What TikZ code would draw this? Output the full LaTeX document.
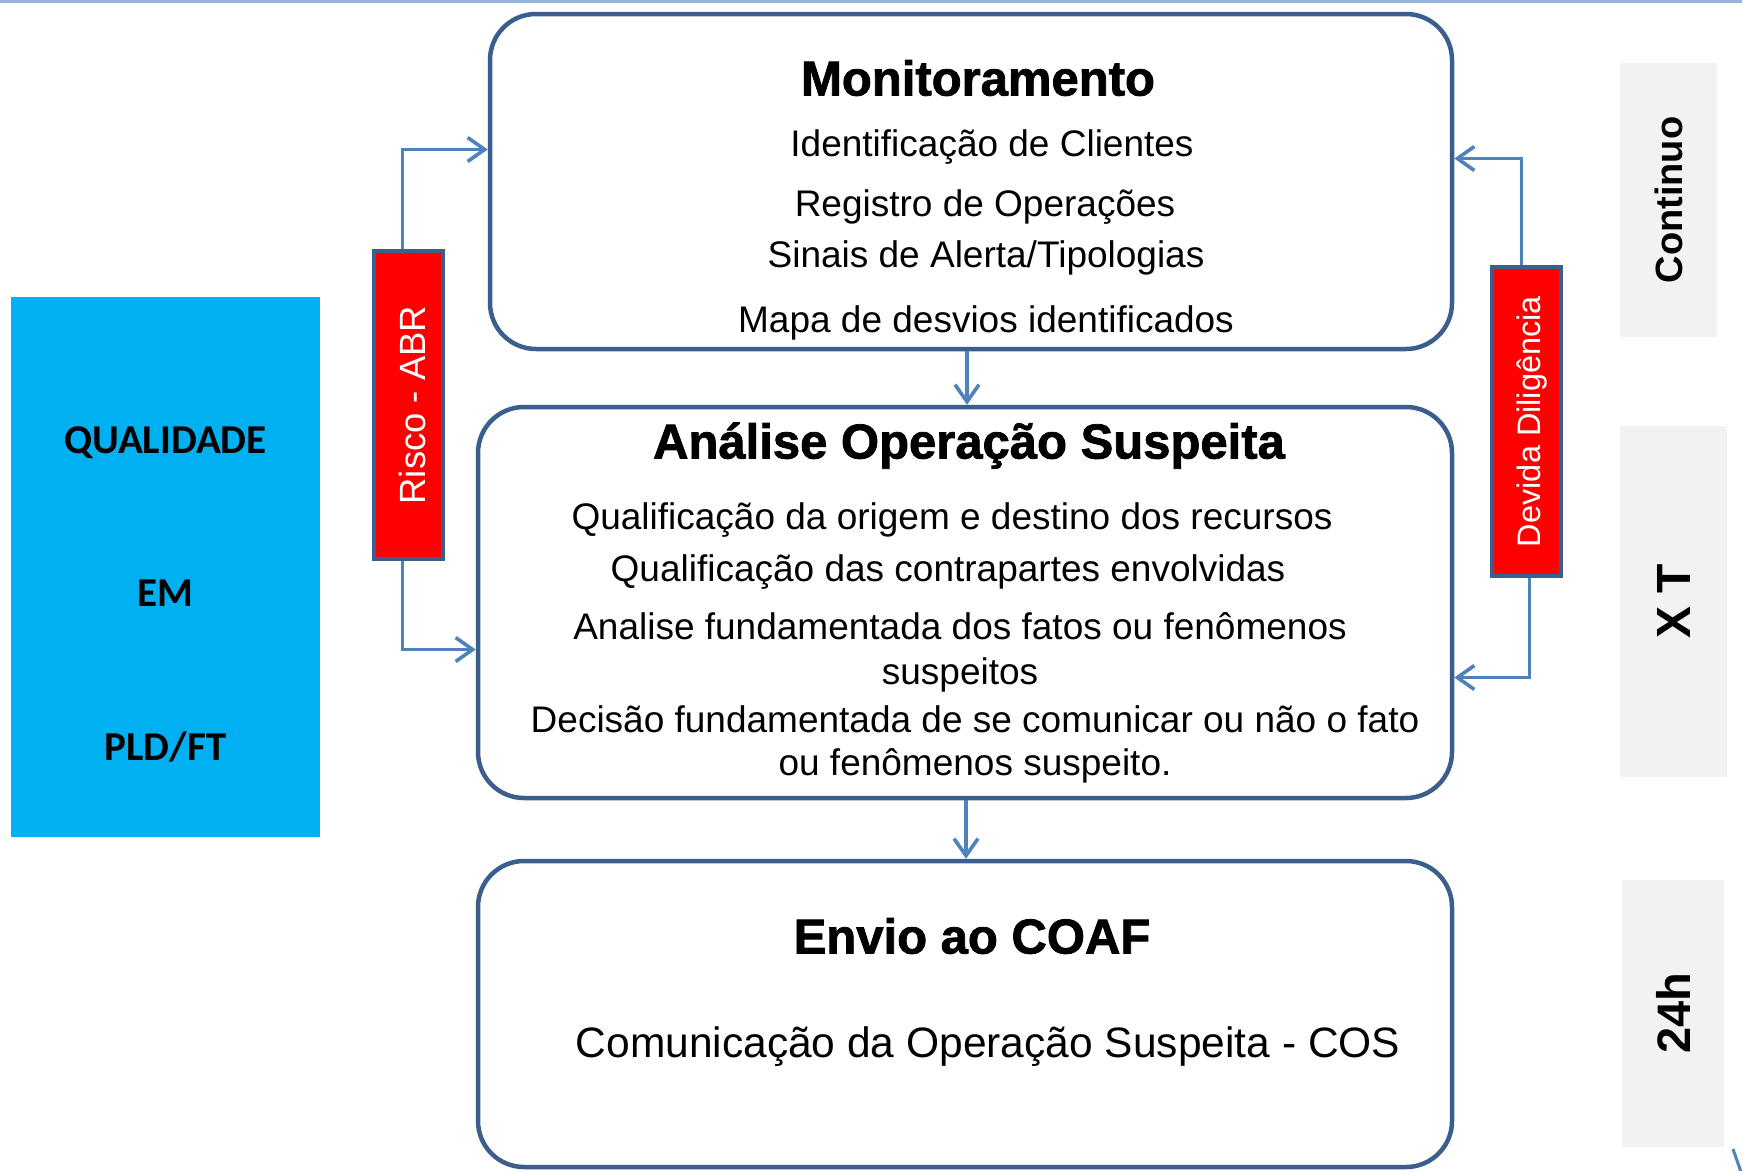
\documentclass[tikz,border=0pt]{standalone}
\usepackage{fontspec}
\setmainfont{Liberation Sans}
\newfontfamily\carlito{Carlito}
\newfontfamily\heavyfont[BoldFeatures={FakeBold=1.6}]{Liberation Sans}
\usepackage{graphicx}
\usetikzlibrary{arrows.meta}

\definecolor{boxblue}{RGB}{58,95,140}
\definecolor{arrowblue}{RGB}{79,129,189}
\definecolor{skyblue}{RGB}{0,176,240}
\definecolor{lightgrey}{RGB}{242,242,242}
\definecolor{topline}{RGB}{149,179,215}

\tikzstyle{stage} = [draw=boxblue, line width=4.5pt, rounded corners=46pt, fill=white, inner sep=0pt]
\tikzstyle{title} = [font=\heavyfont\bfseries\fontsize{49}{58}\selectfont, inner sep=0pt, text height=35pt, text depth=0pt]
\tikzstyle{item} = [font=\fontsize{37}{44}\selectfont, inner sep=0pt, text height=27pt, text depth=0pt]
\tikzstyle{tag} = [draw=boxblue, line width=4.5pt, fill=red, text=white, inner sep=0pt]
\tikzstyle{period} = [fill=lightgrey, inner sep=0pt, font=\bfseries]
\tikzstyle{pillar} = [font=\carlito\bfseries\fontsize{41}{49}\selectfont, inner sep=0pt, text height=26.5pt, text depth=0pt]
\tikzstyle{flow} = [draw=arrowblue, line width=3.6pt, -{Straight Barb[length=17pt,width=24pt]}]

\begin{document}
\begin{tikzpicture}[x=1pt,y=-1pt]
\clip (0,0) rectangle (1742,1170);
\fill[white] (0,0) rectangle (1742,1170);
\draw[topline, line width=3pt] (0,1.5) -- (1742,1.5);
%\draw[step=100, very thin, black!20] (0,0) grid (1742,1170);

% left column
\node[fill=skyblue, minimum width=309pt, minimum height=540pt] (pld) at (165.5,567) {};
\node[pillar] (q1) at (165.5,440) {QUALIDADE};
\node[pillar] (q2) at (165.5,593) {EM};
\node[pillar] (q3) at (165.5,747) {PLD/FT};

% stages
\node[stage, minimum width=962pt, minimum height=335pt] (mon) at (971,181.5) {};
\node[stage, minimum width=974pt, minimum height=391pt] (ana) at (965,602.5) {};
\node[stage, minimum width=974pt, minimum height=306pt] (coaf) at (965,1014) {};

\node[title] (montitle) at (978,78) {Monitoramento};
\node[item] (m1) at (992,143) {Identificação de Clientes};
\node[item] (m2) at (985,203) {Registro de Operações};
\node[item] (m3) at (986,254) {Sinais de Alerta/Tipologias};
\node[item] (m4) at (986,319) {Mapa de desvios identificados};

\node[title] (anatitle) at (969,441) {Análise Operação Suspeita};
\node[item] (a1) at (952,516) {Qualificação da origem e destino dos recursos};
\node[item] (a2) at (948,568) {Qualificação das contrapartes envolvidas};
\node[item] (a3) at (960,626) {Analise fundamentada dos fatos ou fenômenos};
\node[item] (a4) at (960,671) {suspeitos};
\node[item] (a5) at (975,719) {Decisão fundamentada de se comunicar ou não o fato};
\node[item] (a6) at (975,762) {ou fenômenos suspeito.};

\node[title] (coaftitle) at (972,936) {Envio ao COAF};
\node[item, font=\fontsize{42.5}{50}\selectfont, text height=31pt] (c1) at (988,1042) {Comunicação da Operação Suspeita - COS};

% side tags
\node[tag, minimum width=69pt, minimum height=308pt, font=\fontsize{36.5}{44}\selectfont] (risco) at (408.5,405) {\hspace*{8pt}\rotatebox{90}{Risco - ABR}};
\node[tag, minimum width=69pt, minimum height=309pt, font=\fontsize{32.5}{40}\selectfont] (devida) at (1526.5,421.5) {\hspace*{12pt}\rotatebox{90}{Devida Diligência}};

% periods
\node[period, minimum width=97pt, minimum height=274pt, font=\bfseries\fontsize{38}{46}\selectfont] (continuo) at (1668.5,200) {\rotatebox{90}{Continuo}};
\node[period, minimum width=107pt, minimum height=351pt, font=\bfseries\fontsize{48}{56}\selectfont] (xt) at (1673.5,601) {\rotatebox{90}{X T}};
\node[period, minimum width=102pt, minimum height=267pt, font=\bfseries\fontsize{47}{56}\selectfont] (h24) at (1673,1013) {\rotatebox{90}{24h}};

% connectors
\draw[flow] ([xshift=-6pt]risco.north) |- ([yshift=32pt]mon.west);
\draw[flow] ([xshift=-6pt]risco.south) |- ([yshift=-47pt]ana.west);
\draw[flow] ([xshift=-5pt]devida.north) |- ([yshift=23pt]mon.east);
\draw[flow] ([xshift=3pt]devida.south) |- ([yshift=-75pt]ana.east);
\draw[flow] ([xshift=-4pt]mon.south) -- ([xshift=2pt]ana.north);
\draw[flow] ([xshift=1pt]ana.south) -- ([xshift=1pt]coaf.north);

\coordinate (cut1) at (1733,1149);
\coordinate (cut2) at (1741,1172);
\draw[arrowblue, line width=3pt] (cut1) -- (cut2);
\end{tikzpicture}
\end{document}
